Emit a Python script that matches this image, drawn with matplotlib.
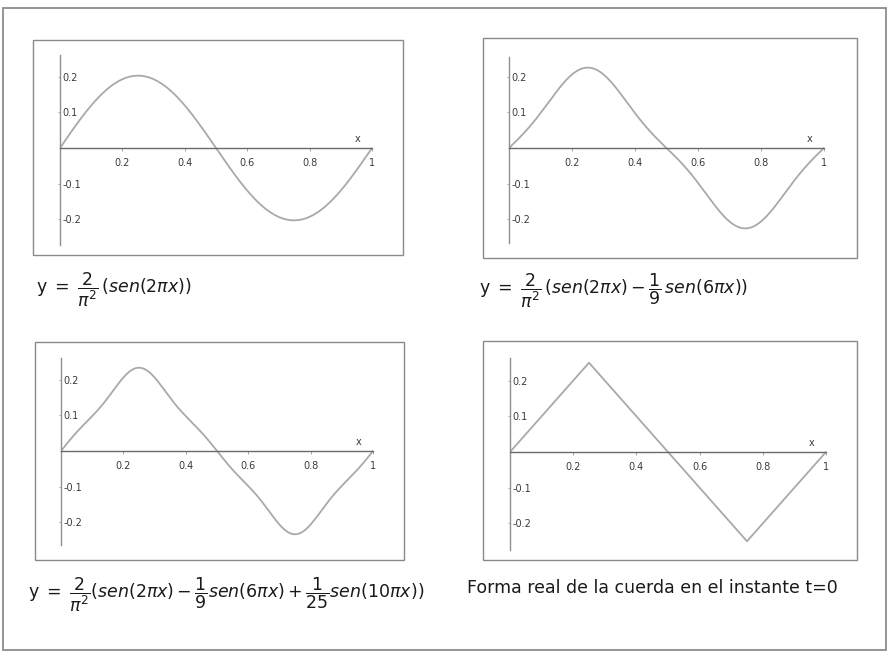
import numpy as np
import matplotlib
matplotlib.use("Agg")
import matplotlib.pyplot as plt
from matplotlib.patches import Rectangle
from matplotlib.ticker import FixedLocator, FixedFormatter

# Fourier partial sums of the plucked string: y = 2/pi^2 * sum c_k sin(n_k * 2 pi x)
amplitude = 2 / np.pi ** 2
harmonic_numbers = [1, 3, 5]
harmonic_coeffs = [1.0, -1.0 / 9.0, 1.0 / 25.0]
terms_per_panel = [1, 2, 3]

# Exact initial shape of the string (triangle wave)
triangle_x = [0.0, 0.25, 0.75, 1.0]
triangle_y = [0.0, 0.25, -0.25, 0.0]

x_tick_values = [0.2, 0.4, 0.6, 0.8, 1.0]
x_tick_labels = ["0.2", "0.4", "0.6", "0.8", "1"]
y_tick_values = [-0.2, -0.1, 0.1, 0.2]
y_tick_labels = ["-0.2", "-0.1", "0.1", "0.2"]

captions = [
    r"$\mathrm{y}\;=\;\dfrac{2}{\pi^2}\,\mathit{(sen(2\pi x))}$",
    r"$\mathrm{y}\;=\;\dfrac{2}{\pi^2}\,\mathit{(sen(2\pi x)}-\dfrac{1}{9}\,\mathit{sen(6\pi x))}$",
    r"$\mathrm{y}\;=\;\dfrac{2}{\pi^2}\mathit{(sen(2\pi x)}-\dfrac{1}{9}\mathit{sen(6\pi x)}+\dfrac{1}{25}\mathit{sen(10\pi x))}$",
    "Forma real de la cuerda en el instante t=0",
]

plt.rcParams["mathtext.fontset"] = "dejavusans"
plt.rcParams["font.family"] = ["DejaVu Sans"]

W, H = 895, 652
fig = plt.figure(figsize=(W / 100, H / 100), dpi=100)
fig.patch.set_facecolor("white")


def fx(px):
    return px / W


def fy(py):
    return 1 - py / H


def fig_rect(x0, y0, x1, y1, **kw):
    r = Rectangle((fx(x0), fy(y1)), fx(x1) - fx(x0), fy(y0) - fy(y1),
                  transform=fig.transFigure, fill=False, **kw)
    fig.patches.append(r)


# outer page border
fig_rect(3, 8, 886, 650, ec="#8c8c8c", lw=1.3)

# panel layout in pixels: frame box, plot area (x0, x1, top, bottom), zero line row,
# caption anchor
panels = [
    dict(frame=(33, 40, 403, 255), area=(60, 372, 55, 245), zero=148, cap=(36, 290)),
    dict(frame=(483, 38, 857, 258), area=(509, 824, 57, 243), zero=148, cap=(479, 291)),
    dict(frame=(35, 342, 404, 560), area=(61, 373, 358, 545), zero=451, cap=(28, 595)),
    dict(frame=(483, 341, 857, 560), area=(510, 826, 358, 550), zero=452, cap=(467, 586)),
]

xs = np.linspace(0, 1, 600)
scale = 357.0  # pixels per unit of y

for i, p in enumerate(panels):
    fig_rect(*p["frame"], ec="#8a8a8a", lw=1.0)
    x0, x1, top, bot = p["area"]
    ax = fig.add_axes([fx(x0), fy(bot), fx(x1) - fx(x0), (bot - top) / H])
    ax.patch.set_visible(False)
    ax.set_xlim(0, 1)
    ax.set_ylim(-(bot - p["zero"]) / scale, (p["zero"] - top) / scale)

    for side in ("top", "right"):
        ax.spines[side].set_visible(False)
    ax.spines["left"].set_position(("data", 0))
    ax.spines["bottom"].set_position(("data", 0))
    ax.spines["left"].set_color("#8f8f8f")
    ax.spines["bottom"].set_color("#6a6a6a")
    ax.spines["left"].set_linewidth(1.0)
    ax.spines["bottom"].set_linewidth(1.0)

    ax.xaxis.set_major_locator(FixedLocator(x_tick_values))
    ax.xaxis.set_major_formatter(FixedFormatter(x_tick_labels))
    ax.yaxis.set_major_locator(FixedLocator(y_tick_values))
    ax.yaxis.set_major_formatter(FixedFormatter(y_tick_labels))
    ax.tick_params(axis="x", length=2, width=0.6, color="#999999", pad=5,
                   labelsize=7, labelcolor="#3a3a3a")
    ax.tick_params(axis="y", length=1.5, width=0.6, color="#999999", pad=-3.2,
                   labelsize=7, labelcolor="#3a3a3a")
    for lbl in ax.get_yticklabels():
        lbl.set_horizontalalignment("left")

    if i < 3:
        ys = np.zeros_like(xs)
        for n, c in zip(harmonic_numbers[:terms_per_panel[i]],
                        harmonic_coeffs[:terms_per_panel[i]]):
            ys += c * np.sin(n * 2 * np.pi * xs)
        ys *= amplitude
        ax.plot(xs, ys, color="#a9a9a9", lw=1.3, solid_capstyle="round")
    else:
        ax.plot(triangle_x, triangle_y, color="#a9a9a9", lw=1.3)

    ax.text(0.953, 0.012, "x", fontsize=7, color="#3a3a3a",
            ha="center", va="bottom")

    cx, cy = p["cap"]
    fig.text(fx(cx), fy(cy), captions[i], fontsize=12.5, color="#1a1a1a",
             ha="left", va="center_baseline" if i == 3 else "center")

fig.savefig("out.png", dpi=100, facecolor="white")
